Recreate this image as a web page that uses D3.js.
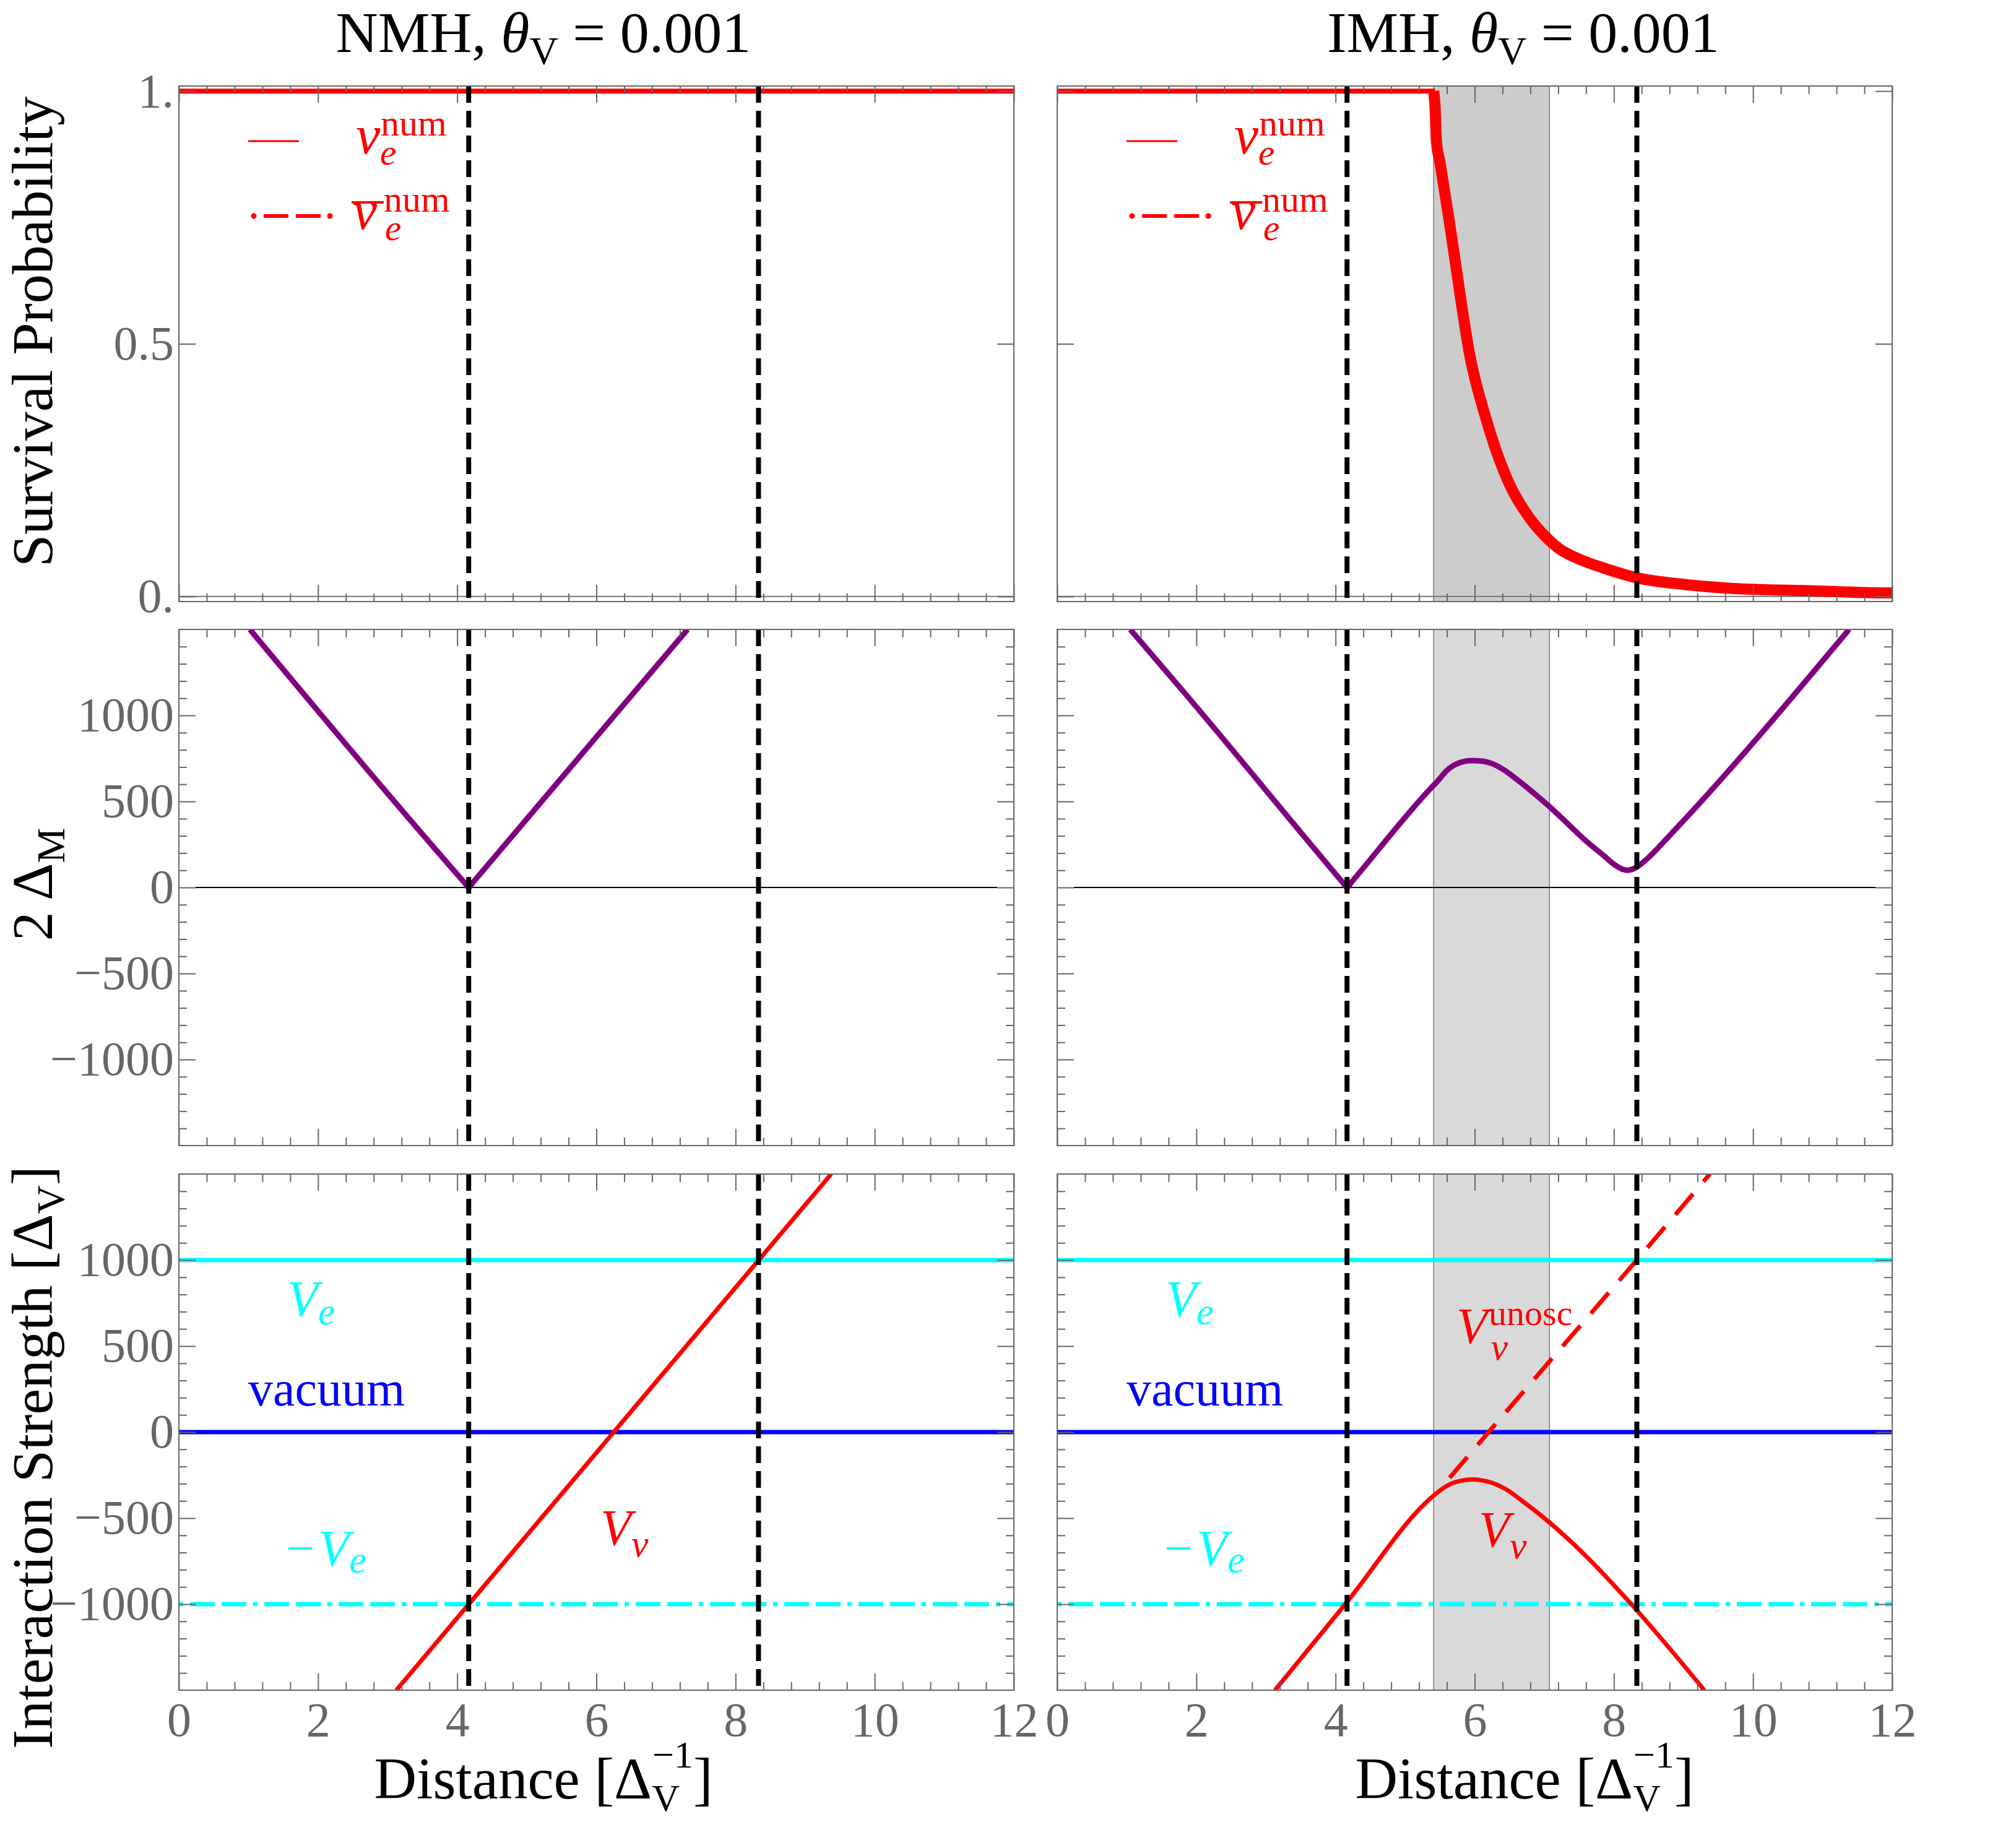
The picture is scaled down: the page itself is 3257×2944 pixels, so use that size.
<!DOCTYPE html>
<html><head><meta charset="utf-8">
<script src="https://cdn.jsdelivr.net/npm/d3@7"></script>
<style>
body{margin:0;background:#fff}
svg{display:block}
text{font-family:"Liberation Serif","Times New Roman",serif}
</style>
</head><body>
<svg id="c" width="3257" height="2944"></svg>
<script>
// ---------------- data ----------------
const xTickValues = [0, 2, 4, 6, 8, 10, 12];
const xTickLabels = ["0", "2", "4", "6", "8", "10", "12"];
const probTickValues = [0, 0.5, 1];
const probTickLabels = ["0.", "0.5", "1."];
const strengthTickValues = [-1000, -500, 0, 500, 1000];
const strengthTickLabels = ["\u22121000", "\u2212500", "0", "500", "1000"];
const resonanceX = [4.165, 8.33];        // vertical dashed lines
const imhBand = [5.41, 7.075];           // grey shaded region (IMH)
const Ve = 1000;                          // +V_e / -V_e levels
const vacuumLevel = 0;

// Survival probability
const nmhProbX = [0, 12];
const nmhProbY = [1, 1];
const imhProbFlatX = [0, 5.43];
const imhProbFlatY = [1, 1];
const imhProbX = [5.41, 5.43, 5.45, 5.50, 5.63, 5.77, 5.92, 6.16, 6.50, 6.78, 7.00, 7.21, 7.50, 7.86, 8.33, 9.00, 9.59, 10.88, 11.96, 12.0];
const imhProbY = [1.0, 0.97, 0.90, 0.86, 0.747, 0.616, 0.484, 0.353, 0.222, 0.157, 0.121, 0.095, 0.074, 0.056, 0.037, 0.024, 0.017, 0.011, 0.007, 0.007];

// 2 Delta_M
const nmhDmX = [1.02, 4.10, 4.165, 4.23, 7.31];
const nmhDmY = [1500, 30, 0, 31, 1500];
const imhDmX = [1.05, 1.855, 4.10, 4.165, 4.23, 5.40, 5.457, 5.60, 5.75, 5.96, 6.10, 6.25, 6.41, 6.60, 6.80, 7.05, 7.30, 7.60, 7.87, 8.00, 8.10, 8.19, 8.30, 8.50, 8.78, 11.38];
const imhDmY = [1500, 1119, 31, 0, 31, 590, 614, 680, 720, 737, 735, 720, 686, 630, 565, 479, 385, 270, 180, 135, 110, 100, 112, 175, 293, 1500];

// Interaction strength V_nu
const nmhVnuX = [3.125, 9.375];
const nmhVnuY = [-1500, 1500];
const imhVnuX = [3.13, 4.14, 5.41, 5.55, 5.66, 5.80, 5.97, 6.10, 6.25, 6.44, 6.70, 7.08, 7.56, 8.25, 9.30];
const imhVnuY = [-1500, -1000, -369, -325, -300, -283, -275, -280, -295, -330, -405, -527, -705, -1000, -1500];
const imhUnoscX = [5.64, 6.20, 8.33, 9.38];
const imhUnoscY = [-265, 0, 1000, 1500];

// ---------------- layout ----------------
const svg = d3.select("#c");
const FONT = '"Liberation Serif","Times New Roman",serif';
const cols = [{x0: 289, x1: 1638}, {x0: 1708, x1: 3057}];
const rows = [{y0: 139, y1: 972}, {y0: 1017, y1: 1851}, {y0: 1897, y1: 2731}];
const xDomain = [0, 12];
const probDomain = [-0.01, 1.01];
const strDomain = [-1500, 1500];
const zip = (a, b) => a.map((v, i) => [v, b[i]]);

const xMinor = d3.range(0, 12.0001, 0.4).filter(v => Math.abs(v / 2 - Math.round(v / 2)) > 1e-6);
const strMajor = strengthTickValues;
const strMinor = d3.range(-1400, 1401, 100).filter(v => v % 500 !== 0);

function makePanel(ci, ri, yDomain) {
  const c = cols[ci], r = rows[ri];
  const x = d3.scaleLinear().domain(xDomain).range([c.x0, c.x1]);
  const y = d3.scaleLinear().domain(yDomain).range([r.y1, r.y0]);
  const id = `clip${ci}${ri}`;
  svg.append("clipPath").attr("id", id).append("rect")
    .attr("x", c.x0).attr("y", r.y0).attr("width", c.x1 - c.x0).attr("height", r.y1 - r.y0);
  const g = svg.append("g");
  const plot = g.append("g").attr("clip-path", `url(#${id})`);
  return {x, y, g, plot, c, r};
}

function styleAx(sel) {
  sel.select(".domain").remove();
  sel.attr("font-family", FONT);
  sel.selectAll(".tick line").attr("stroke", "#666").attr("stroke-width", 2);
  sel.selectAll(".tick text").attr("fill", "#666").attr("font-size", 78).attr("font-family", FONT);
}

function axes(p, yMajor, yMinor, yLabelFn, xLabels) {
  const {x, y, g, c, r} = p;
  const none = () => "";
  g.append("g").attr("transform", `translate(0,${r.y1})`)
    .call(d3.axisBottom(x).tickValues(xTickValues).tickSize(-27).tickPadding(19)
      .tickFormat(xLabels ? (d, i) => xTickLabels[i] : none)).call(styleAx);
  g.append("g").attr("transform", `translate(0,${r.y1})`)
    .call(d3.axisBottom(x).tickValues(xMinor).tickSize(-13).tickFormat(none)).call(styleAx);
  g.append("g").attr("transform", `translate(0,${r.y0})`)
    .call(d3.axisTop(x).tickValues(xTickValues).tickSize(-27).tickFormat(none)).call(styleAx);
  g.append("g").attr("transform", `translate(0,${r.y0})`)
    .call(d3.axisTop(x).tickValues(xMinor).tickSize(-13).tickFormat(none)).call(styleAx);
  g.append("g").attr("transform", `translate(${c.x0},0)`)
    .call(d3.axisLeft(y).tickValues(yMajor).tickSize(-27).tickPadding(8)
      .tickFormat(yLabelFn || none)).call(styleAx);
  g.append("g").attr("transform", `translate(${c.x1},0)`)
    .call(d3.axisRight(y).tickValues(yMajor).tickSize(-27).tickFormat(none)).call(styleAx);
  if (yMinor.length) {
    g.append("g").attr("transform", `translate(${c.x0},0)`)
      .call(d3.axisLeft(y).tickValues(yMinor).tickSize(-13).tickFormat(none)).call(styleAx);
    g.append("g").attr("transform", `translate(${c.x1},0)`)
      .call(d3.axisRight(y).tickValues(yMinor).tickSize(-13).tickFormat(none)).call(styleAx);
  }
  g.append("rect").attr("x", c.x0).attr("y", r.y0).attr("width", c.x1 - c.x0).attr("height", r.y1 - r.y0)
    .attr("fill", "none").attr("stroke", "#666").attr("stroke-width", 2);
}

function band(p, fill) {
  const {x, plot, r} = p;
  plot.append("rect").attr("x", x(imhBand[0])).attr("y", r.y0)
    .attr("width", x(imhBand[1]) - x(imhBand[0])).attr("height", r.y1 - r.y0)
    .attr("fill", fill);
  imhBand.forEach(b => plot.append("line").attr("x1", x(b)).attr("x2", x(b))
    .attr("y1", r.y0).attr("y2", r.y1).attr("stroke", "#777").attr("stroke-width", 1.5));
}

function resonances(p) {
  const {x, plot, r} = p;
  resonanceX.forEach(v => plot.append("line").attr("x1", x(v)).attr("x2", x(v))
    .attr("y1", r.y0).attr("y2", r.y1).attr("stroke", "#000").attr("stroke-width", 8)
    .attr("stroke-dasharray", "27,13"));
}

function curve(p, xs, ys, color, width, dash, smooth) {
  const line = d3.line().x(d => p.x(d[0])).y(d => p.y(d[1]))
    .curve(smooth ? d3.curveMonotoneX : d3.curveLinear);
  const path = p.plot.append("path").attr("d", line(zip(xs, ys)))
    .attr("fill", "none").attr("stroke", color).attr("stroke-width", width)
    .attr("stroke-linejoin", "round");
  if (dash) path.attr("stroke-dasharray", dash);
  return path;
}

function hline(p, v, color, width, dash, xa, xb) {
  const {x, y, plot} = p;
  const l = plot.append("line").attr("x1", x(xa)).attr("x2", x(xb))
    .attr("y1", y(v)).attr("y2", y(v)).attr("stroke", color).attr("stroke-width", width);
  if (dash) l.attr("stroke-dasharray", dash);
}

// composite label: parts = [[string, size, italic, dx, dy], ...] in one text element
function label(parent, x, y, color, parts) {
  const t = parent.append("text").attr("x", x).attr("y", y).attr("fill", color);
  parts.forEach(([s, size, it, dx, dy]) => {
    t.append("tspan").text(s).attr("font-size", size)
      .attr("font-style", it ? "italic" : "normal")
      .attr("dx", dx || 0).attr("dy", dy || 0);
  });
  return t;
}

// ---------------- panels ----------------
const labelsG = svg.append("g");
[0, 1].forEach(ci => {
  const dx = ci === 0 ? 0 : cols[1].x0 - cols[0].x0;
  // --- top: survival probability
  const pT = makePanel(ci, 0, probDomain);
  if (ci === 1) band(pT, "#cccccc");
  hline(pT, 0, "#777", 2, null, 0, 12);
  if (ci === 0) {
    curve(pT, nmhProbX, nmhProbY, "#ff0000", 8);
  } else {
    curve(pT, imhProbFlatX, imhProbFlatY, "#ff0000", 8);
    curve(pT, imhProbX, imhProbY, "#ff0000", 18, null, true);
  }
  resonances(pT);
  axes(pT, probTickValues, [], ci === 0 ? (d, i) => probTickLabels[i] : null, false);

  // legend
  const lg = pT.g;
  lg.append("line").attr("x1", 401 + dx).attr("x2", 483 + dx).attr("y1", 228).attr("y2", 228)
    .attr("stroke", "#ff0000").attr("stroke-width", 3);
  label(lg, 575 + dx, 248, "#ff0000", [["\u03bd", 88, true], ["num", 60, false, 1, -29], ["e", 60, true, -108, 47]]);
  [410, 533].forEach(cx => lg.append("circle").attr("cx", cx + dx).attr("cy", 349).attr("r", 4.5).attr("fill", "#ff0000"));
  [[426, 466], [478, 518]].forEach(s => lg.append("line").attr("x1", s[0] + dx).attr("x2", s[1] + dx)
    .attr("y1", 349).attr("y2", 349).attr("stroke", "#ff0000").attr("stroke-width", 6));
  label(lg, 570 + dx, 370, "#ff0000", [["\u03bd", 88, true], ["num", 60, false, 11, -28], ["e", 60, true, -105, 46]]);
  lg.append("line").attr("x1", 568 + dx).attr("x2", 620 + dx).attr("y1", 327).attr("y2", 327)
    .attr("stroke", "#ff0000").attr("stroke-width", 4);

  // --- middle: 2 Delta_M
  const pM = makePanel(ci, 1, strDomain);
  if (ci === 1) band(pM, "#d9d9d9");
  hline(pM, 0, "#000", 2, null, 0.24, 11.76);
  if (ci === 0) curve(pM, nmhDmX, nmhDmY, "#800080", 9, null, true);
  else curve(pM, imhDmX, imhDmY, "#800080", 9, null, true);
  resonances(pM);
  axes(pM, strMajor, strMinor, ci === 0 ? (d, i) => strengthTickLabels[i] : null, false);

  // --- bottom: interaction strength
  const pB = makePanel(ci, 2, strDomain);
  if (ci === 1) band(pB, "#d9d9d9");
  hline(pB, Ve, "#00ffff", 7, null, 0, 12);
  hline(pB, vacuumLevel, "#0000ff", 7, null, 0, 12);
  hline(pB, -Ve, "#00ffff", 7, "7,11,40,11,40,11", 0, 12);
  if (ci === 0) {
    curve(pB, nmhVnuX, nmhVnuY, "#ff0000", 7);
  } else {
    curve(pB, imhUnoscX, imhUnoscY, "#ff0000", 7, "44,26");
    curve(pB, imhVnuX, imhVnuY, "#ff0000", 7, null, true);
  }
  resonances(pB);
  axes(pB, strMajor, strMinor, ci === 0 ? (d, i) => strengthTickLabels[i] : null, true);

  const bg = pB.g;
  label(bg, 464 + dx, 2126, "#00ffff", [["V", 82, true], ["e", 62, true, 0, 14]]);
  label(bg, 401 + dx, 2271, "#0000ff", [["vacuum", 80, false]]);
  label(bg, 462 + dx, 2529, "#00ffff", [["\u2212", 82, false], ["V", 82, true, 6, 0], ["e", 62, true, 0, 12]]);
  if (ci === 0) {
    label(bg, 970, 2496, "#ff0000", [["V", 82, true], ["\u03bd", 62, true, 0, 19]]);
  } else {
    label(bg, 2353, 2170, "#ff0000", [["V", 82, true], ["unosc", 58, false, 2, -29], ["\u03bd", 62, true, -132, 56]]);
    label(bg, 2389, 2499, "#ff0000", [["V", 82, true], ["\u03bd", 62, true, 0, 19]]);
  }
});

// ---------------- titles & axis labels ----------------
function title(cx, name) {
  const t = labelsG.append("text").attr("x", cx).attr("y", 84).attr("text-anchor", "middle")
    .attr("font-size", 94).attr("fill", "#000");
  t.append("tspan").text(name + ", ");
  t.append("tspan").text("\u03b8").attr("font-style", "italic");
  t.append("tspan").text("V").attr("font-size", 64).attr("dy", 20);
  t.append("tspan").text(" = 0.001").attr("dy", -20);
}
title(878, "NMH");
title(2461, "IMH");

function xlabel(cx) {
  const t = labelsG.append("text").attr("x", cx).attr("y", 2906).attr("text-anchor", "middle")
    .attr("font-size", 95).attr("fill", "#000");
  t.append("tspan").text("Distance [\u0394");
  t.append("tspan").text("V").attr("font-size", 62).attr("dy", 20);
  t.append("tspan").text("\u22121").attr("font-size", 62).attr("dx", -44).attr("dy", -70);
  t.append("tspan").text("]").attr("dy", 50);
}
xlabel(878);
xlabel(2463);

function ylabel(cy, main, sub, tail) {
  const t = labelsG.append("text").attr("transform", `translate(84,${cy}) rotate(-90)`)
    .attr("text-anchor", "middle").attr("font-size", 94).attr("fill", "#000");
  t.append("tspan").text(main);
  if (sub) t.append("tspan").text(sub).attr("font-size", 64).attr("dy", 20);
  if (tail) t.append("tspan").text(tail).attr("dy", -20);
}
ylabel(536, "Survival Probability");
ylabel(1429, "2 \u0394", "M");
ylabel(2355, "Interaction Strength [\u0394", "V", "]");
</script>
</body></html>
